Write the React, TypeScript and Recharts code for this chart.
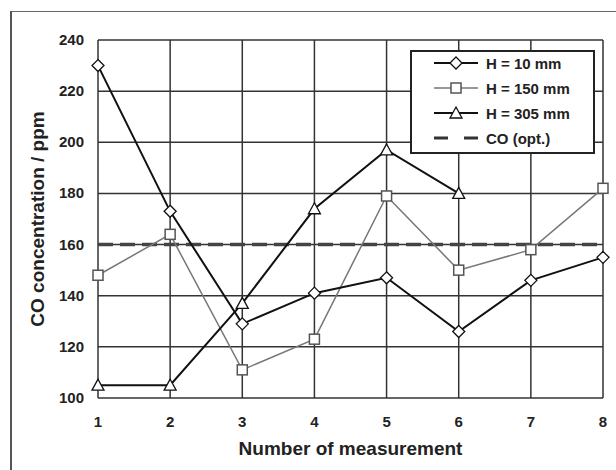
import { CartesianGrid, Line, LineChart, ReferenceLine, XAxis, YAxis } from 'recharts';

const measurements = [1, 2, 3, 4, 5, 6, 7, 8];
const h10 = [230, 173, 129, 141, 147, 126, 146, 155];
const h150 = [148, 164, 111, 123, 179, 150, 158, 182];
const h305 = [105, 105, 137, 174, 197, 180, null, null];
const coOpt = 160;
const yTicks = [100, 120, 140, 160, 180, 200, 220, 240];

const data = measurements.map((m, i) => ({ m, h10: h10[i], h150: h150[i], h305: h305[i] }));

const FONT = 'Liberation Sans, Arial, sans-serif';

const Diamond = (props: any) => {
  const { cx, cy } = props;
  if (cx == null || cy == null) return null;
  return <path d={`M${cx},${cy - 6}L${cx + 6},${cy}L${cx},${cy + 6}L${cx - 6},${cy}Z`} fill="#fff" stroke="#111" strokeWidth={1.3} />;
};

const Square = (props: any) => {
  const { cx, cy } = props;
  if (cx == null || cy == null) return null;
  return <rect x={cx - 5} y={cy - 5} width={10} height={10} fill="#fff" stroke="#555" strokeWidth={1.5} />;
};

const Triangle = (props: any) => {
  const { cx, cy } = props;
  if (cx == null || cy == null) return null;
  return <path d={`M${cx},${cy - 6}L${cx + 6},${cy + 5}L${cx - 6},${cy + 5}Z`} fill="#fff" stroke="#111" strokeWidth={1.3} />;
};

const XTick = (props: any) => (
  <text x={props.x} y={props.y + 29} textAnchor="middle" fill="#222" fontSize={15} fontWeight={700} fontFamily={FONT}>
    {props.payload.value}
  </text>
);

const YTick = (props: any) => (
  <text x={props.x - 14} y={props.y + 5} textAnchor="end" fill="#222" fontSize={15} fontWeight={700} fontFamily={FONT}>
    {props.payload.value}
  </text>
);

function LegendBox() {
  const rows = [
    { label: 'H = 10 mm', color: '#111', w: 2, marker: 'd' },
    { label: 'H = 150 mm', color: '#777', w: 1.5, marker: 's' },
    { label: 'H = 305 mm', color: '#111', w: 2, marker: 't' },
    { label: 'CO (opt.)', color: '#333', w: 3, marker: 'dash' },
  ];
  return (
    <div
      style={{
        position: 'absolute',
        left: 410,
        top: 50,
        width: 181,
        height: 100,
        border: '2px solid #222',
        background: '#fff',
        fontFamily: FONT,
        fontWeight: 700,
        fontSize: 15,
        color: '#222',
      }}
    >
      {rows.map((r, i) => (
        <div key={r.label} style={{ position: 'absolute', left: 0, top: 1 + i * 25, height: 20, display: 'flex', alignItems: 'center' }}>
          <svg width={74} height={20}>
            {r.marker === 'dash' ? (
              <line x1={22} x2={66} y1={10} y2={10} stroke={r.color} strokeWidth={r.w} strokeDasharray="14 16" />
            ) : (
              <line x1={22} x2={66} y1={10} y2={10} stroke={r.color} strokeWidth={r.w} />
            )}
            {r.marker === 'd' && <Diamond cx={44} cy={10} />}
            {r.marker === 's' && <Square cx={44} cy={10} />}
            {r.marker === 't' && <Triangle cx={44} cy={10} />}
          </svg>
          <span style={{ whiteSpace: 'nowrap' }}>{r.label}</span>
        </div>
      ))}
    </div>
  );
}

export default function App() {
  return (
    <div style={{ position: 'absolute', left: 0, top: 0, width: 616, height: 470, background: '#fff', overflow: 'hidden' }}>
      <div style={{ position: 'absolute', left: 10, top: 11, width: 620, height: 480, borderLeft: '2px solid #555', borderTop: '1px solid #666' }} />
      <LineChart width={616} height={470} data={data} margin={{ top: 40, right: 13, bottom: 0, left: 0 }} style={{ position: 'absolute', left: 0, top: 0 }}>
        <CartesianGrid stroke="#333" strokeWidth={1.5} />
        <XAxis
          dataKey="m"
          type="number"
          domain={[1, 8]}
          ticks={measurements}
          axisLine={false}
          tickLine={false}
          tickSize={0}
          tickMargin={0}
          height={72}
          tick={<XTick />}
          label={{ value: 'Number of measurement', position: 'insideBottom', offset: 15, fill: '#222', fontSize: 19, fontWeight: 700, fontFamily: FONT }}
        />
        <YAxis
          domain={[100, 240]}
          ticks={yTicks}
          axisLine={false}
          tickLine={false}
          tickSize={0}
          tickMargin={0}
          width={98}
          tick={<YTick />}
          label={{ value: 'CO concentration / ppm', angle: -90, position: 'insideLeft', offset: 37, style: { textAnchor: 'middle' }, fill: '#222', fontSize: 19, fontWeight: 700, fontFamily: FONT }}
        />
        <ReferenceLine y={coOpt} stroke="#444" strokeWidth={3.5} strokeDasharray="15 7" />
        <Line dataKey="h150" stroke="#777" strokeWidth={1.5} dot={<Square />} isAnimationActive={false} />
        <Line dataKey="h10" stroke="#111" strokeWidth={2} dot={<Diamond />} isAnimationActive={false} />
        <Line dataKey="h305" stroke="#111" strokeWidth={2} dot={<Triangle />} isAnimationActive={false} />
      </LineChart>
      <LegendBox />
    </div>
  );
}
